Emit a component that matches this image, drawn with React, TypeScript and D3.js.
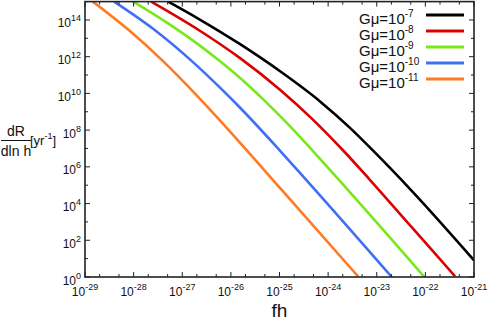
import { useEffect, useRef } from 'react';
import * as d3 from 'd3';

// log10(fh) and log10(dR/dln h), one pair of arrays per Gμ
const gmuExponents = ['-7', '-8', '-9', '-10', '-11'];

const logF7 = [-27.29, -26.63, -25.81, -24.98, -24.16, -23.55, -23.09, -22.29, -21.0];
const logR7 = [15.0, 14.01, 12.68, 11.19, 9.55, 8.12, 6.92, 4.72, 0.91];

const logF8 = [-27.64, -26.63, -25.81, -24.99, -24.34, -23.69, -23.16, -22.3, -21.39];
const logR8 = [15.0, 13.4, 11.92, 10.2, 8.64, 6.89, 5.35, 2.77, 0.04];

const logF9 = [-28.01, -27.3, -26.63, -26.26, -25.81, -25.34, -24.85, -24.33, -23.81, -22.02];
const logR9 = [15.0, 13.83, 12.59, 11.83, 10.84, 9.69, 8.39, 6.91, 5.38, 0];

const logF10 = [-28.4, -27.6, -26.82, -26.16, -25.81, -25.01, -24.47, -22.69];
const logR10 = [15.0, 13.52, 11.8, 10.15, 9.22, 6.94, 5.35, 0];

const logF11 = [-28.84, -28.1, -27.4, -26.63, -25.81, -24.95, -23.38];
const logR11 = [15.0, 13.45, 11.77, 9.69, 7.31, 4.73, 0.02];

const xTickExps = [-29, -28, -27, -26, -25, -24, -23, -22, -21];
const yTickExps = [0, 2, 4, 6, 8, 10, 12, 14];

const colors = ['#000000', '#dc0000', '#78e818', '#3f6ff5', '#ff7a20'];

const W = 491;
const H = 323;
const FONT = '"Liberation Sans", Arial, Helvetica, sans-serif';

const RateChart = () => {
  const svgRef = useRef(null);

  useEffect(() => {
    const svg = d3.select(svgRef.current);
    svg.selectAll('*').remove();

    const left = 85, right = 474, top = 1.6, bottom = 277;

    const xScale = d3.scaleLog().domain([1e-29, 1e-21]).range([left, right]);
    const yScale = d3.scaleLog().domain([1, 1e15]).range([bottom, top]);

    const series = [
      [logF7, logR7],
      [logF8, logR8],
      [logF9, logR9],
      [logF10, logR10],
      [logF11, logR11],
    ].map(([fs, rs]) => fs.map((f, i) => [Math.pow(10, f), Math.pow(10, rs[i])]));

    svg.append('defs')
      .append('clipPath')
      .attr('id', 'plot-clip')
      .append('rect')
      .attr('x', left)
      .attr('y', top)
      .attr('width', right - left)
      .attr('height', bottom - top);

    const line = d3.line()
      .x(d => xScale(d[0]))
      .y(d => yScale(d[1]))
      .curve(d3.curveMonotoneX);

    // Curves
    svg.append('g')
      .attr('clip-path', 'url(#plot-clip)')
      .selectAll('path')
      .data(series)
      .enter()
      .append('path')
      .attr('d', d => line(d))
      .attr('fill', 'none')
      .attr('stroke', (d, i) => colors[i])
      .attr('stroke-width', 2.6);

    // Ticks (inside, on all four sides)
    const ticks = svg.append('g').attr('stroke', '#222').attr('stroke-width', 1);
    const xMinor = [];
    xTickExps.slice(0, -1).forEach(e => {
      xMinor.push(2 * Math.pow(10, e), 5 * Math.pow(10, e));
    });
    xTickExps.forEach(e => {
      const x = xScale(Math.pow(10, e));
      ticks.append('line').attr('x1', x).attr('x2', x).attr('y1', bottom).attr('y2', bottom - 5);
      ticks.append('line').attr('x1', x).attr('x2', x).attr('y1', top).attr('y2', top + 5);
    });
    xMinor.forEach(v => {
      const x = xScale(v);
      ticks.append('line').attr('x1', x).attr('x2', x).attr('y1', bottom).attr('y2', bottom - 3);
      ticks.append('line').attr('x1', x).attr('x2', x).attr('y1', top).attr('y2', top + 3);
    });
    d3.range(0, 16).forEach(e => {
      const y = yScale(Math.pow(10, e));
      const len = e % 2 === 0 ? 5 : 3;
      ticks.append('line').attr('x1', left).attr('x2', left + len).attr('y1', y).attr('y2', y);
      ticks.append('line').attr('x1', right).attr('x2', right - len).attr('y1', y).attr('y2', y);
    });

    // Frame
    svg.append('rect')
      .attr('x', left)
      .attr('y', top)
      .attr('width', right - left)
      .attr('height', bottom - top)
      .attr('fill', 'none')
      .attr('stroke', '#222')
      .attr('stroke-width', 1.6);

    // Y tick labels
    yTickExps.forEach(e => {
      const t = svg.append('text')
        .attr('x', left - 4)
        .attr('y', yScale(Math.pow(10, e)) + 7.5)
        .attr('text-anchor', 'end')
        .style('font-family', FONT)
        .style('font-size', '12px')
        .style('fill', '#111');
      t.append('tspan').text('10');
      t.append('tspan').attr('dy', -6).style('font-size', '9px').text(String(e));
    });

    // X tick labels
    xTickExps.forEach(e => {
      const t = svg.append('text')
        .attr('x', xScale(Math.pow(10, e)))
        .attr('y', 296)
        .attr('text-anchor', 'middle')
        .style('font-family', FONT)
        .style('font-size', '12px')
        .style('fill', '#111');
      t.append('tspan').text('10');
      t.append('tspan').attr('dy', -6).style('font-size', '9px').text(String(e));
    });

    // Axis titles
    svg.append('text')
      .attr('x', (left + right) / 2)
      .attr('y', 317)
      .attr('text-anchor', 'middle')
      .style('font-family', FONT)
      .style('font-size', '19px')
      .style('fill', '#111')
      .text('fh');

    const yl = svg.append('g').style('font-family', FONT).style('fill', '#111');
    yl.append('text').attr('x', 16).attr('y', 136).attr('text-anchor', 'middle')
      .style('font-size', '14px').text('dR');
    yl.append('line').attr('x1', 1).attr('x2', 31).attr('y1', 140.5).attr('y2', 140.5)
      .attr('stroke', '#111').attr('stroke-width', 1);
    yl.append('text').attr('x', 16).attr('y', 156).attr('text-anchor', 'middle')
      .style('font-size', '14px').text('dln h');
    const unit = yl.append('text').attr('x', 30).attr('y', 145).style('font-size', '13px');
    unit.append('tspan').text('[yr');
    unit.append('tspan').attr('dy', -6).style('font-size', '9px').text('-1');
    unit.append('tspan').attr('dy', 6).text(']');

    // Legend
    const legend = svg.append('g');
    gmuExponents.forEach((ex, i) => {
      const ly = 15 + i * 16;
      const t = legend.append('text')
        .attr('x', 359)
        .attr('y', ly + 8.5)
        .style('font-family', FONT)
        .style('font-size', '15px')
        .style('fill', '#111');
      t.append('tspan').text('Gμ=10');
      t.append('tspan').attr('dy', -7).style('font-size', '10px').text(ex);
      legend.append('line')
        .attr('x1', 426)
        .attr('x2', 464)
        .attr('y1', ly)
        .attr('y2', ly)
        .attr('stroke', colors[i])
        .attr('stroke-width', 3);
    });
  }, []);

  return (
    <svg
      ref={svgRef}
      width={W}
      height={H}
      style={{ position: 'absolute', left: 0, top: 0, background: '#fff' }}
    />
  );
};

export default function App() {
  return <RateChart />;
}
